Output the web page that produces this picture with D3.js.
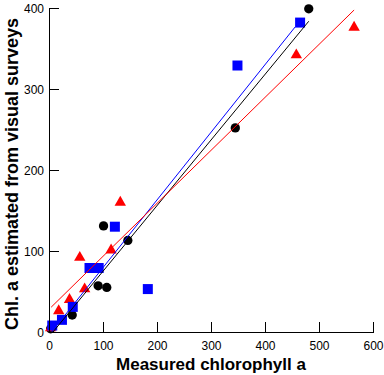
<!DOCTYPE html>
<html>
<head>
<meta charset="utf-8">
<script src="https://cdn.jsdelivr.net/npm/d3@7"></script>
<style>
  html, body { margin: 0; padding: 0; background: #fff; }
  svg { display: block; font-family: "Liberation Sans", Arial, sans-serif; }
</style>
</head>
<body>
<svg id="chart" width="384" height="375"></svg>
<script>
// ---- Data ----
const blackX = [3, 43, 91, 107, 101, 146, 345, 481];
const blackY = [4, 21, 57, 55, 131, 113, 252, 399];

const blueX = [6, 24, 44, 75, 92, 122, 183, 349, 465];
const blueY = [8, 15, 31, 79, 79, 130, 53, 329, 382];

const redX = [3, 18, 38, 66, 57, 115, 132, 458, 565];
const redY = [5, 26, 40, 53, 92, 101, 160, 342, 376];

// regression lines: [black, blue, red]
const regSeries = ["black", "blue", "red"];
const regSlope = [0.81, 0.835, 0.654];
const regIntercept = [-6, -4, 28];
const regXStart = [7, 5, 4];
const regXEnd = [481, 456, 565];

const xTicks = [0, 100, 200, 300, 400, 500, 600];
const yTicks = [0, 100, 200, 300, 400];

const xTitle = "Measured chlorophyll a";
const yTitle = "Chl. a estimated from visual surveys";

// ---- Drawing ----
const svg = d3.select("#chart");
const x = d3.scaleLinear().domain([0, 600]).range([49, 373]);
const y = d3.scaleLinear().domain([0, 400]).range([332, 8]);

const colors = { black: "#000000", blue: "#0000ff", red: "#ff0000" };

// markers
const gPts = svg.append("g");
gPts.selectAll("path.circ").data(d3.range(blackX.length)).join("path")
  .attr("class", "circ")
  .attr("transform", i => `translate(${x(blackX[i])},${y(blackY[i])})`)
  .attr("d", d3.symbol(d3.symbolCircle, 68))
  .attr("fill", colors.black);

gPts.selectAll("path.tri").data(d3.range(redX.length)).join("path")
  .attr("class", "tri")
  .attr("transform", i => `translate(${x(redX[i])},${y(redY[i])})`)
  .attr("d", d3.symbol(d3.symbolTriangle, 56))
  .attr("fill", colors.red);

gPts.selectAll("path.sq").data(d3.range(blueX.length)).join("path")
  .attr("class", "sq")
  .attr("transform", i => `translate(${x(blueX[i])},${y(blueY[i])})`)
  .attr("d", d3.symbol(d3.symbolSquare, 100))
  .attr("fill", colors.blue);

// regression lines
const line = d3.line().x(d => x(d[0])).y(d => y(d[1]));
svg.append("g").selectAll("path").data(d3.range(regSeries.length)).join("path")
  .attr("d", i => line([
    [regXStart[i], regIntercept[i] + regSlope[i] * regXStart[i]],
    [regXEnd[i], regIntercept[i] + regSlope[i] * regXEnd[i]]
  ]))
  .attr("fill", "none")
  .attr("stroke", i => colors[regSeries[i]])
  .attr("stroke-width", 1);

// axes
const xAxis = d3.axisBottom(x).tickValues(xTicks).tickFormat(d3.format("d"))
  .tickSizeInner(-10).tickSizeOuter(0).tickPadding(9);
const yAxis = d3.axisLeft(y).tickValues(yTicks).tickFormat(d3.format("d"))
  .tickSizeInner(-10).tickSizeOuter(0).tickPadding(5);

const gx = svg.append("g").attr("transform", "translate(0,332)").call(xAxis);
const gy = svg.append("g").attr("transform", "translate(49,0)").call(yAxis);
[gx, gy].forEach(g => {
  g.attr("font-size", 12).attr("font-family", "'Liberation Sans', Arial, sans-serif");
  g.selectAll("path, line").attr("stroke", "#000").attr("shape-rendering", "crispEdges");
  g.selectAll("text").attr("fill", "#000");
});
gy.selectAll("text").attr("dy", "0.4em");

// titles
svg.append("text")
  .attr("x", 211).attr("y", 370)
  .attr("text-anchor", "middle")
  .attr("font-weight", "bold").attr("font-size", 17)
  .text(xTitle);

svg.append("text")
  .attr("transform", "translate(18,174) rotate(-90)")
  .attr("text-anchor", "middle")
  .attr("font-weight", "bold").attr("font-size", 18)
  .text(yTitle);
</script>
</body>
</html>
